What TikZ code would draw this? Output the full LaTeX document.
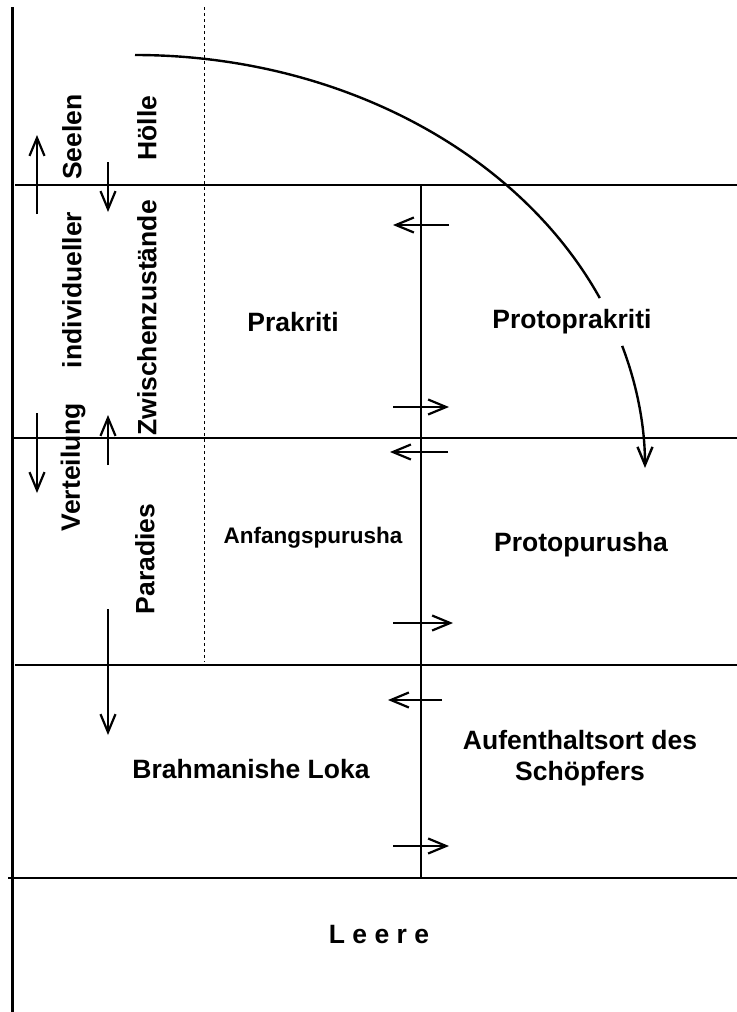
\documentclass[tikz,border=0pt]{standalone}
\usepackage{fontspec}
\setmainfont{Liberation Sans}
\usetikzlibrary{arrows.meta}
\tikzset{
  >={Straight Barb[length=9pt,width=7.5pt]},
  frame/.style={line width=1.2pt},
  outer/.style={line width=1.5pt},
  sep/.style={line width=0.5pt, dash pattern=on 1.5pt off 1.5pt},
  flow/.style={->, line width=1.1pt},
  lab/.style={font=\fontsize{13.25}{15.5}\selectfont\bfseries, align=center, inner sep=0pt},
  vlab/.style={lab, rotate=90},
}

\begin{document}
\begin{tikzpicture}[x=0.5pt, y=-0.5pt]
  \useasboundingbox (0,0) rectangle (737,1012);

  % frame
  \draw[outer] (12,7) -- (12,1012);
  \draw[frame] (15,185) -- (737,185);
  \draw[frame] (12,438) -- (737,438);
  \draw[frame] (15,665) -- (737,665);
  \draw[frame] (8,878) -- (737,878);
  \draw[frame] (421,185) -- (421,878);
  \draw[sep] (204,7) -- (204,662);

  % labels
  \node[vlab] (seelen) at (72,137) {Seelen};
  \node[vlab] (hoelle) at (147,128) {Hölle};
  \node[vlab] (indiv) at (72,290) {individueller};
  \node[vlab] (zwischen) at (147,318) {Zwischenzustände};
  \node[vlab] (verteil) at (73,467) {Verteilung};
  \node[vlab] (paradies) at (145,559) {Paradies};
  \node[lab] (prakriti) at (293,322) {Prakriti};
  \node[lab] (protoprak) at (572,322) {Protoprakriti};
  \node[lab, font=\fontsize{11.25}{13}\selectfont\bfseries] (anfang) at (313,538) {Anfangspurusha};
  \node[lab] (protopur) at (581,545) {Protopurusha};
  \node[lab] (brahma) at (251,769) {Brahmanishe Loka};
  \node[lab] (aufent) at (580,758) {Aufenthaltsort des\\Schöpfers};
  \node[lab] (leere) at (379,935) {L e e r e};

  % soul movement
  \foreach \n/\x/\ya/\yb in {su/37/214/135, sd/108/162/212, vd/37/413/493, vu/108/465/415, pd/108/609/735}{
    \coordinate (\n A) at (\x,\ya);
    \coordinate (\n B) at (\x,\yb);
    \draw[flow] (\n A) -- (\n B);
  }

  % exchange across the divider
  \foreach \n/\xa/\xb/\y in {a/449/393/225, b/393/449/407, c/448/390/452, d/393/453/623, e/442/388/700, f/393/449/846}{
    \coordinate (\n A) at (\xa,\y);
    \coordinate (\n B) at (\xb,\y);
    \draw[flow] (\n A) -- (\n B);
  }

  % descent curve
  \coordinate (arcc) at (135,468);
  \coordinate (arcs) at (135,55);
  \draw[frame] (arcs) arc[start angle=-90, end angle=-24.3, x radius=510, y radius=413];
  \draw[frame, ->] (arcc) ++(-17.2:510 and 413) arc[start angle=-17.2, end angle=0, x radius=510, y radius=413];
\end{tikzpicture}
\end{document}
